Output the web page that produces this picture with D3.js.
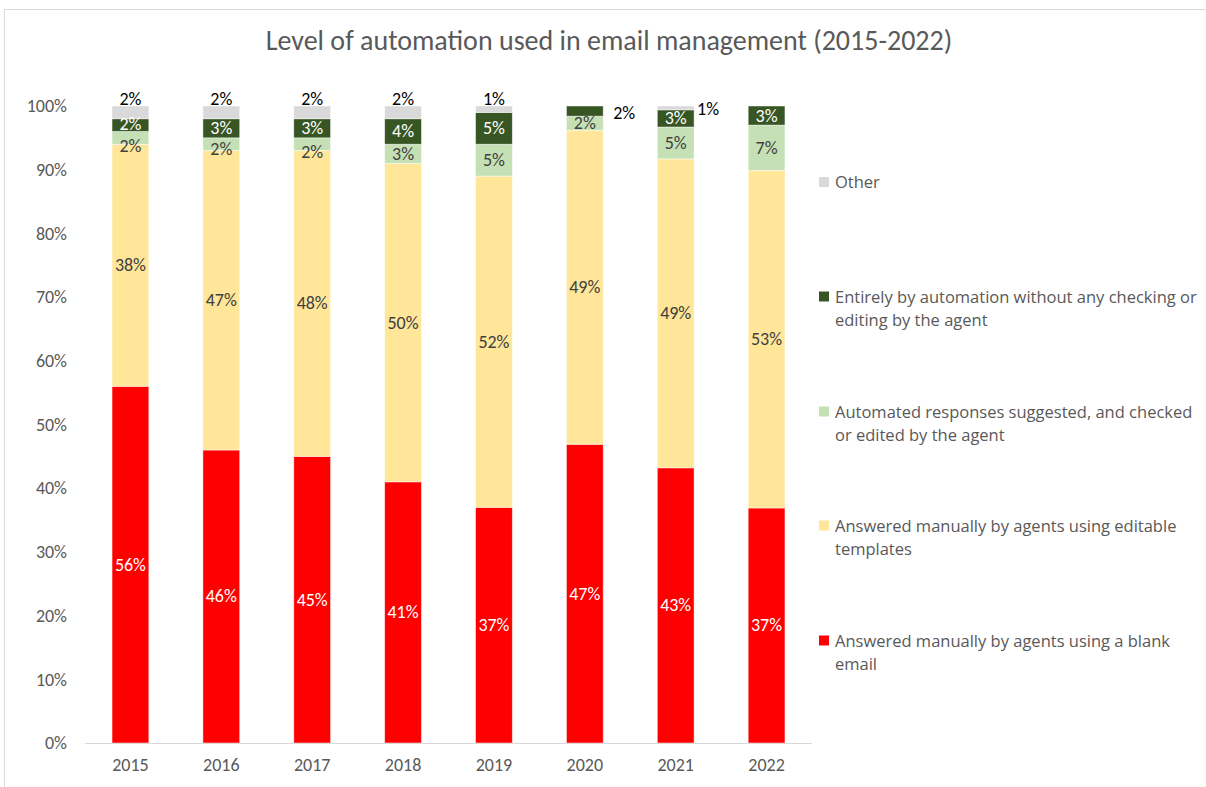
<!DOCTYPE html>
<html>
<head>
<meta charset="utf-8">
<script src="https://cdn.jsdelivr.net/npm/d3@7"></script>
<style>
  body { margin: 0; background: #fff; }
  svg { display: block; }
</style>
</head>
<body>
<svg id="chart" width="1206" height="787"></svg>
<script>
// ---- data ----
const years = ["2015", "2016", "2017", "2018", "2019", "2020", "2021", "2022"];
const blankEmail   = [56, 46, 45, 41, 37, 46.9, 43.2, 36.9];
const templates    = [38, 47, 48, 50, 52, 49.3, 48.5, 53.0];
const suggested    = [2, 2, 2, 3, 5, 2.2, 5.0, 7.1];
const fullyAuto    = [2, 3, 3, 4, 5, 1.6, 2.7, 3.0];
const other        = [2, 2, 2, 2, 1, 0, 0.6, 0];
const seriesNames = [
  "Answered manually by agents using a blank email",
  "Answered manually by agents using editable templates",
  "Automated responses suggested, and checked or edited by the agent",
  "Entirely by automation without any checking or editing by the agent",
  "Other"
];
const legendLines = [
  ["Answered manually by agents using a blank", "email"],
  ["Answered manually by agents using editable", "templates"],
  ["Automated responses suggested, and checked", "or edited by the agent"],
  ["Entirely by automation without any checking or", "editing by the agent"],
  ["Other"]
];
const yTicks = [0, 10, 20, 30, 40, 50, 60, 70, 80, 90, 100];
const colors = ["#FF0000", "#FFE699", "#C5E0B4", "#375623", "#D9D9D9"];
const labelColors = ["#ffffff", "#404040", "#404040", "#ffffff", "#000000"];
const title = "Level of automation used in email management (2015-2022)";

const seriesValues = [blankEmail, templates, suggested, fullyAuto, other];
const keys = ["s0", "s1", "s2", "s3", "s4"];
const rows = years.map((y, i) => {
  const r = { year: y };
  keys.forEach((k, j) => r[k] = seriesValues[j][i]);
  return r;
});

const svg = d3.select("#chart");
const axisFont = "Carlito, 'Liberation Sans Narrow', 'Open Sans', sans-serif";
const legendFont = "'Open Sans', 'Noto Sans', sans-serif";

// border
svg.append("rect").attr("x", 4.5).attr("y", 9.5).attr("width", 1220).attr("height", 800)
  .attr("fill", "#fff").attr("stroke", "#d9d9d9");

// title
svg.append("text").attr("x", 609).attr("y", 50).attr("text-anchor", "middle")
  .attr("font-family", axisFont).attr("font-size", 28).attr("fill", "#595959")
  .attr("font-weight", 300)
  .text(title);

const x = d3.scaleBand().domain(years).range([85, 812]).paddingInner(0.595).paddingOuter(0.2975);
const y = d3.scaleLinear().domain([0, 100]).range([743, 106]);

const stack = d3.stack().keys(keys);
const stacked = stack(rows);

const layers = svg.append("g").selectAll("g").data(stacked).join("g")
  .attr("fill", (d, i) => colors[i]);
layers.selectAll("rect").data(d => d).join("rect")
  .attr("x", d => x(d.data.year))
  .attr("width", x.bandwidth())
  .attr("y", d => y(d[1]))
  .attr("height", d => Math.max(0, y(d[0]) - y(d[1])))
  .attr("stroke", "#fff").attr("stroke-width", 0.8)
  .attr("stroke-opacity", 0.6);

// axes
const yAxis = d3.axisLeft(y).tickValues(yTicks).tickFormat(d => d + "%").tickSize(0).tickPadding(18);
const gy = svg.append("g").attr("transform", "translate(85,0)").call(yAxis);
gy.select(".domain").remove();
gy.selectAll("text").attr("font-family", axisFont).attr("font-size", 18).attr("fill", "#595959");

const xAxis = d3.axisBottom(x).tickSize(0).tickPadding(15);
const gx = svg.append("g").attr("transform", "translate(0,743)").call(xAxis);
gx.select(".domain").attr("stroke", "#d9d9d9").attr("d", "M85,0.5H812");
gx.selectAll("text").attr("font-family", axisFont).attr("font-size", 18).attr("fill", "#595959");

// data labels
const fmt = v => Math.round(v) + "%";
// small vertical nudges for crowded labels (as in the reference)
const suggestedNudge = { "2015": 8, "2016": 5, "2017": 8 };
const autoNudge = { "2015": -1 };
const labels = svg.append("g").attr("font-family", axisFont).attr("font-size", 18);
stacked.forEach((layer, si) => {
  layer.forEach((d, i) => {
    const v = d[1] - d[0];
    if (v <= 0) return;
    let lx = x(d.data.year) + x.bandwidth() / 2;
    let ly = (y(d[0]) + y(d[1])) / 2 + 6;
    let anchor = "middle";
    let col = labelColors[si];
    if (si === 2 && suggestedNudge[d.data.year]) ly += suggestedNudge[d.data.year];
    if (si === 3 && autoNudge[d.data.year]) ly += autoNudge[d.data.year];
    if (si === 4) {
      // "Other" label sits above the bar
      ly = y(d[1]) - 1;
      if (d.data.year === "2021") { lx = x(d.data.year) + x.bandwidth() + 3; ly = y(d[1]) + 9; anchor = "start"; }
    }
    if (si === 3 && d.data.year === "2020") {
      lx = x(d.data.year) + x.bandwidth() + 10; ly = y(d[1]) + 13; anchor = "start"; col = "#000";
    }
    labels.append("text").attr("x", lx).attr("y", ly).attr("text-anchor", anchor)
      .attr("fill", col).text(fmt(v));
  });
});

// legend
const legendCenters = [652, 537, 423, 308, 182];
const lg = svg.append("g").attr("font-family", legendFont).attr("font-size", 16.5).attr("fill", "#595959");
legendLines.forEach((lines, i) => {
  const cy = legendCenters[i];
  const n = lines.length;
  const firstY = cy - (n - 1) * 23 / 2;
  lg.append("rect").attr("x", 819).attr("y", firstY - 5).attr("width", 10).attr("height", 10).attr("fill", colors[i]);
  const t = lg.append("text").attr("x", 835).attr("y", firstY + 6);
  lines.forEach((ln, k) => {
    t.append("tspan").attr("x", 835).attr("dy", k === 0 ? 0 : 23).text(ln);
  });
});
</script>
</body>
</html>
